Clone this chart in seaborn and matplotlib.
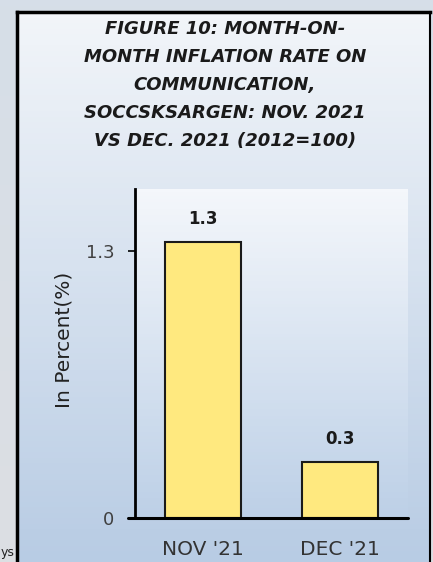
import seaborn as sns
import pandas as pd
import numpy as np
import matplotlib.pyplot as plt
from matplotlib.colors import LinearSegmentedColormap

sns.set_theme(style="white")
plt.rcParams['font.family'] = ['DejaVu Sans']

# Data
months = ["NOV '21", "DEC '21"]
rates = [1.34, 0.27]
rate_labels = ["1.3", "0.3"]
ytick_values = [0, 1.3]
ytick_labels = ["0", "1.3"]

title = ("FIGURE 10: MONTH-ON-\nMONTH INFLATION RATE ON\nCOMMUNICATION,\n"
         "SOCCSKSARGEN: NOV. 2021\nVS DEC. 2021 (2012=100)")

df = pd.DataFrame({"month": months, "rate": rates})

W, H = 433, 562
fig = plt.figure(figsize=(W / 100, H / 100), dpi=100)

# outer screenshot background
bg = fig.add_axes([0, 0, 1, 1], zorder=-3)
bg.imshow(np.linspace(0, 1, 100).reshape(-1, 1), aspect='auto', extent=[0, 1, 0, 1],
          cmap=LinearSegmentedColormap.from_list('o', ['#d6dee8', '#dcdfe3']))
bg.axis('off')

# chart panel with gradient and black border
px0, py1 = 17 / W, 1 - 12 / H
panel = fig.add_axes([px0, 0, 430 / W - px0, py1], zorder=-2)
panel.imshow(np.linspace(0, 1, 100).reshape(-1, 1), aspect='auto', extent=[0, 1, 0, 1],
             cmap=LinearSegmentedColormap.from_list('p', ['#b8cce4', '#f2f5f9']),
             origin='lower')
panel.set_xticks([])
panel.set_yticks([])
for side in ['left', 'top', 'right']:
    panel.spines[side].set_color('black')
    panel.spines[side].set_linewidth(2.5)
panel.spines['right'].set_linewidth(1.5)
panel.spines['bottom'].set_visible(False)

# plot area
ax = fig.add_axes([135 / W, 1 - 518 / H, (408 - 135) / W, (518 - 189) / H])
ax.set_facecolor('none')
ax.imshow(np.linspace(0, 1, 100).reshape(-1, 1), aspect='auto',
          extent=[-0.5, 1.5, 0, 1.6], origin='lower', zorder=0,
          cmap=LinearSegmentedColormap.from_list('a', ['#bdd0e7', '#f4f7fb']))

sns.barplot(data=df, x="month", y="rate", color='#ffe97f', saturation=1,
            width=0.56, edgecolor='#1a1a1a', linewidth=1.5, ax=ax, zorder=2)

for i, (v, lab) in enumerate(zip(rates, rate_labels)):
    ax.text(i, v + 0.07, lab, ha='center', va='bottom', fontsize=12,
            fontweight='bold', color='#1a1a1a')

ax.set_xlim(-0.5, 1.5)
ax.set_ylim(0, 1.6)
ax.set_yticks(ytick_values)
ax.set_yticklabels(ytick_labels, fontsize=13, color='#404040')
ax.tick_params(axis='y', left=True, length=5, width=1.2, color='black', pad=10)
ax.tick_params(axis='x', bottom=False, labelsize=14.5, labelcolor='#333333', pad=10)
ax.set_xlabel('')
ax.set_ylabel('In Percent(%)', fontsize=14.5, color='#222222')
ax.yaxis.set_label_coords(-0.225, 0.54)
for side in ['top', 'right']:
    ax.spines[side].set_visible(False)
ax.spines['left'].set_color('black')
ax.spines['left'].set_linewidth(2)
ax.spines['bottom'].set_visible(False)
ax.plot([-0.55, 1.5], [0, 0], color='black', lw=2.2, clip_on=False, zorder=3)

fig.text(225 / W, 1 - 85 / H, title, ha='center', va='center', fontsize=13,
         fontweight='bold', fontstyle='italic', color='#1a1a1a',
         linespacing=1.7)

# small text fragment at the lower-left of the screenshot
fig.text(1 / W, 3 / H, 'ys', fontsize=9, color='#222222', ha='left', va='bottom')

fig.savefig('out.png', dpi=100)
